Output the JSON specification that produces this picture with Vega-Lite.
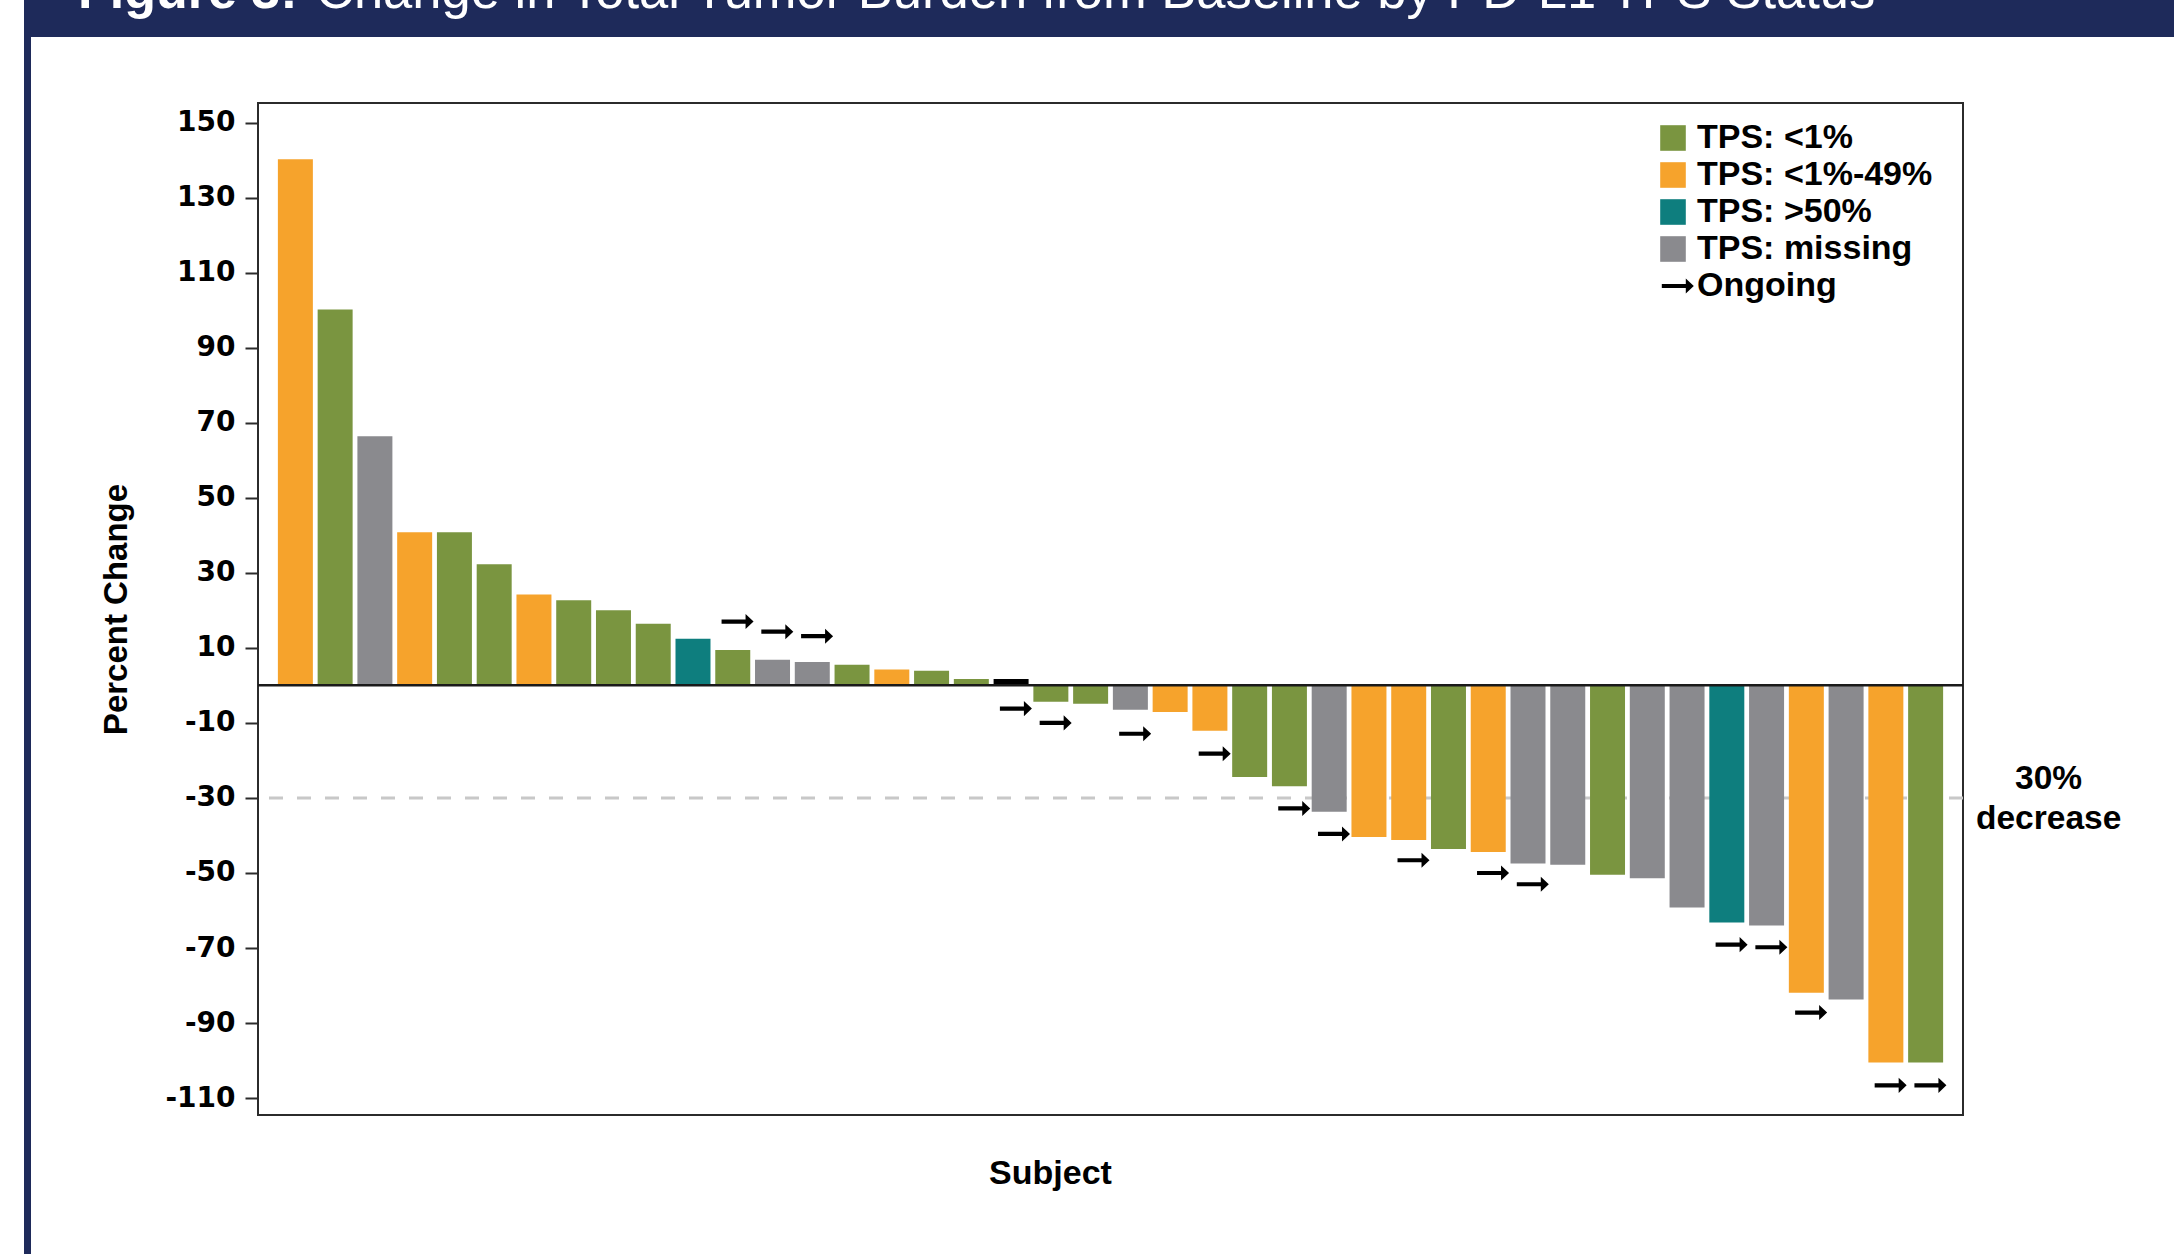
{
  "$schema": "https://vega.github.io/schema/vega-lite/v6.json",
  "padding": {"left": 24, "top": 0, "right": 0, "bottom": 0},
  "autosize": {"type": "pad"},
  "background": "white",
  "spacing": 0,
  "bounds": "flush",
  "config": {
    "font": "Liberation Sans",
    "view": {"stroke": null},
    "legend": {
      "symbolSize": 1024,
      "symbolStrokeWidth": 0,
      "labelFont": "Liberation Sans",
      "labelFontWeight": "bold",
      "labelFontSize": 34,
      "labelColor": "#000000",
      "labelLimit": 500,
      "labelOffset": 7,
      "rowPadding": 3,
      "padding": 0
    }
  },
  "datasets": {
    "subjects": [
      {"subject": 1, "change": 140.2, "tps": "TPS: <1%-49%"},
      {"subject": 2, "change": 100.2, "tps": "TPS: <1%"},
      {"subject": 3, "change": 66.4, "tps": "TPS: missing"},
      {"subject": 4, "change": 40.8, "tps": "TPS: <1%-49%"},
      {"subject": 5, "change": 40.8, "tps": "TPS: <1%"},
      {"subject": 6, "change": 32.3, "tps": "TPS: <1%"},
      {"subject": 7, "change": 24.2, "tps": "TPS: <1%-49%"},
      {"subject": 8, "change": 22.7, "tps": "TPS: <1%"},
      {"subject": 9, "change": 20.0, "tps": "TPS: <1%"},
      {"subject": 10, "change": 16.4, "tps": "TPS: <1%"},
      {"subject": 11, "change": 12.4, "tps": "TPS: >50%"},
      {"subject": 12, "change": 9.4, "tps": "TPS: <1%", "status": "Ongoing", "marker": 17.0},
      {"subject": 13, "change": 6.8, "tps": "TPS: missing", "status": "Ongoing", "marker": 14.3},
      {"subject": 14, "change": 6.2, "tps": "TPS: missing", "status": "Ongoing", "marker": 13.1},
      {"subject": 15, "change": 5.5, "tps": "TPS: <1%"},
      {"subject": 16, "change": 4.2, "tps": "TPS: <1%-49%"},
      {"subject": 17, "change": 3.9, "tps": "TPS: <1%"},
      {"subject": 18, "change": 1.7, "tps": "TPS: <1%"},
      {"subject": 19, "change": 1.7, "tps": "other", "status": "Ongoing", "marker": -6.2},
      {"subject": 20, "change": -4.4, "tps": "TPS: <1%", "status": "Ongoing", "marker": -10.0},
      {"subject": 21, "change": -4.9, "tps": "TPS: <1%"},
      {"subject": 22, "change": -6.5, "tps": "TPS: missing", "status": "Ongoing", "marker": -12.9},
      {"subject": 23, "change": -7.1, "tps": "TPS: <1%-49%"},
      {"subject": 24, "change": -12.1, "tps": "TPS: <1%-49%", "status": "Ongoing", "marker": -18.2},
      {"subject": 25, "change": -24.4, "tps": "TPS: <1%"},
      {"subject": 26, "change": -26.9, "tps": "TPS: <1%", "status": "Ongoing", "marker": -32.8},
      {"subject": 27, "change": -33.7, "tps": "TPS: missing", "status": "Ongoing", "marker": -39.6},
      {"subject": 28, "change": -40.4, "tps": "TPS: <1%-49%"},
      {"subject": 29, "change": -41.2, "tps": "TPS: <1%-49%", "status": "Ongoing", "marker": -46.6},
      {"subject": 30, "change": -43.6, "tps": "TPS: <1%"},
      {"subject": 31, "change": -44.4, "tps": "TPS: <1%-49%", "status": "Ongoing", "marker": -50.0},
      {"subject": 32, "change": -47.5, "tps": "TPS: missing", "status": "Ongoing", "marker": -53.0},
      {"subject": 33, "change": -47.8, "tps": "TPS: missing"},
      {"subject": 34, "change": -50.5, "tps": "TPS: <1%"},
      {"subject": 35, "change": -51.4, "tps": "TPS: missing"},
      {"subject": 36, "change": -59.2, "tps": "TPS: missing"},
      {"subject": 37, "change": -63.2, "tps": "TPS: >50%", "status": "Ongoing", "marker": -69.1},
      {"subject": 38, "change": -64.0, "tps": "TPS: missing", "status": "Ongoing", "marker": -69.8},
      {"subject": 39, "change": -81.9, "tps": "TPS: <1%-49%", "status": "Ongoing", "marker": -87.2},
      {"subject": 40, "change": -83.7, "tps": "TPS: missing"},
      {"subject": 41, "change": -100.5, "tps": "TPS: <1%-49%", "status": "Ongoing", "marker": -106.6},
      {"subject": 42, "change": -100.5, "tps": "TPS: <1%", "status": "Ongoing", "marker": -106.6}
    ]
  },
  "vconcat": [
    {
      "width": 2150,
      "height": 37,
      "data": {"values": [{"title": "Figure 3: Change in Total Tumor Burden from Baseline by PD-L1 TPS Status"}]},
      "layer": [
        {"mark": {"type": "rect", "color": "#1e2a5a"}, "encoding": {}},
        {"mark": {"type": "text", "text": "Figure 3:", "color": "#ffffff", "font": "Liberation Sans", "fontWeight": "bold", "fontSize": 52, "align": "left", "baseline": "alphabetic", "dx": -1021, "dy": -11, "clip": true}, "encoding": {}},
        {"mark": {"type": "text", "text": "Change in Total Tumor Burden from Baseline by PD-L1 TPS Status", "color": "#ffffff", "font": "Liberation Sans", "fontWeight": "normal", "fontSize": 52.5, "align": "left", "baseline": "alphabetic", "dx": -783, "dy": -11, "clip": true}, "encoding": {}}
      ]
    },
    {
      "spacing": 227,
      "bounds": "flush",
      "hconcat": [
        {
          "width": 7,
          "height": 1217,
          "data": {"values": [{}]},
          "mark": {"type": "rect", "color": "#1e2a5a"},
          "encoding": {}
        },
        {
          "spacing": 65,
          "bounds": "flush",
          "vconcat": [
            {
              "width": 1705,
              "height": 1,
              "data": {"values": [{}]},
              "mark": {"type": "rect", "opacity": 0},
              "encoding": {}
            },
            {
              "width": 1705,
              "height": 1012,
              "view": {"stroke": "#2b2b2b", "strokeWidth": 2},
              "layer": [
                {
                  "data": {"values": [{"threshold": -30}]},
                  "mark": {"type": "rule", "color": "#c8c8c8", "strokeWidth": 3, "strokeDash": [14, 14]},
                  "encoding": {
                    "y": {"field": "threshold", "type": "quantitative"}
                  }
                },
                {
                  "data": {"name": "subjects"},
                  "mark": {"type": "bar"},
                  "encoding": {
                    "x": {
                      "field": "subject", "type": "ordinal",
                      "scale": {"paddingInner": 0.12, "paddingOuter": 0.5},
                      "axis": {
                        "labels": false, "ticks": false, "domain": false, "grid": false,
                        "title": "Subject",
                        "titleFont": "Liberation Sans", "titleFontSize": 34, "titleFontWeight": "bold", "titleColor": "#000000",
                        "titleX": 792, "titleY": 68, "titleAlign": "center", "titleBaseline": "alphabetic"
                      }
                    },
                    "y": {
                      "field": "change", "type": "quantitative",
                      "scale": {"domain": [-114.5, 155.2], "nice": false, "zero": false},
                      "axis": {
                        "values": [150, 130, 110, 90, 70, 50, 30, 10, -10, -30, -50, -70, -90, -110],
                        "labelExpr": "datum.value < 0 ? '-' + abs(datum.value) : '' + datum.value",
                        "grid": false, "domain": false,
                        "labelFont": "DejaVu Sans", "labelFontWeight": "bold", "labelFontSize": 28, "labelColor": "#000000",
                        "labelPadding": 10, "labelFlush": false,
                        "tickSize": 13, "tickWidth": 2, "tickColor": "#2b2b2b",
                        "title": "Percent Change",
                        "titleFont": "Liberation Sans", "titleFontSize": 33, "titleFontWeight": "bold", "titleColor": "#000000",
                        "titlePadding": 31
                      }
                    },
                    "color": {
                      "field": "tps", "type": "nominal",
                      "scale": {
                        "domain": ["TPS: <1%", "TPS: <1%-49%", "TPS: >50%", "TPS: missing", "Ongoing", "other"],
                        "range": ["#7a9540", "#f6a32c", "#0e7e7e", "#8a8a8e", "#000000", "#000000"]
                      },
                      "legend": {
                        "title": null, "orient": "none", "legendX": 1632, "legendY": 121,
                        "values": ["TPS: <1%", "TPS: <1%-49%", "TPS: >50%", "TPS: missing", "Ongoing"]
                      }
                    }
                  }
                },
                {
                  "data": {"values": [{"baseline": 0}]},
                  "mark": {"type": "rule", "color": "#1a1a1a", "strokeWidth": 2.5},
                  "encoding": {
                    "y": {"field": "baseline", "type": "quantitative"}
                  }
                },
                {
                  "data": {"name": "subjects"},
                  "transform": [{"filter": "datum.status == 'Ongoing'"}],
                  "mark": {"type": "point", "filled": true, "size": 1024, "opacity": 1, "strokeWidth": 0},
                  "encoding": {
                    "x": {"field": "subject", "type": "ordinal"},
                    "y": {"field": "marker", "type": "quantitative"},
                    "color": {
                      "field": "status", "type": "nominal",
                      "legend": {
                        "title": null, "orient": "none", "legendX": 1632, "legendY": 121,
                        "values": ["TPS: <1%", "TPS: <1%-49%", "TPS: >50%", "TPS: missing", "Ongoing"]
                      }
                    },
                    "shape": {
                      "field": "status", "type": "nominal",
                      "scale": {
                        "domain": ["TPS: <1%", "TPS: <1%-49%", "TPS: >50%", "TPS: missing", "Ongoing", "other"],
                        "range": [
                          "M-0.8,-0.8L0.8,-0.8L0.8,0.8L-0.8,0.8Z",
                          "M-0.8,-0.8L0.8,-0.8L0.8,0.8L-0.8,0.8Z",
                          "M-0.8,-0.8L0.8,-0.8L0.8,0.8L-0.8,0.8Z",
                          "M-0.8,-0.8L0.8,-0.8L0.8,0.8L-0.8,0.8Z",
                          "M-0.7,-0.13L0.8,-0.13L0.8,-0.47L1.3,0L0.8,0.47L0.8,0.13L-0.7,0.13Z",
                          "M-0.8,-0.8L0.8,-0.8L0.8,0.8L-0.8,0.8Z"
                        ]
                      },
                      "legend": {
                        "title": null, "orient": "none", "legendX": 1632, "legendY": 121,
                        "values": ["TPS: <1%", "TPS: <1%-49%", "TPS: >50%", "TPS: missing", "Ongoing"]
                      }
                    }
                  }
                },
                {
                  "data": {"values": [{"note": "30% decrease"}]},
                  "mark": {"type": "text", "text": ["30%", "decrease"], "font": "Liberation Sans", "fontWeight": "bold", "fontSize": 33.5, "lineHeight": 40, "color": "#000000", "align": "center", "baseline": "alphabetic", "dx": 123, "dy": -9},
                  "encoding": {
                    "x": {"datum": 42, "type": "ordinal"},
                    "y": {"datum": -30, "type": "quantitative"}
                  }
                }
              ]
            }
          ]
        }
      ]
    }
  ]
}
